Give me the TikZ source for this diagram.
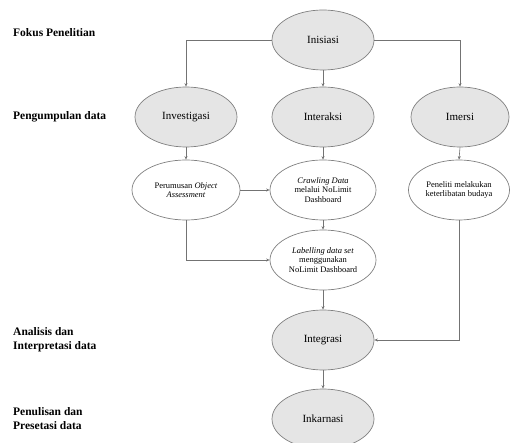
\documentclass[tikz,border=0pt]{standalone}
\usepackage{fontspec}
\setmainfont{Liberation Serif}
\usetikzlibrary{shapes.geometric,arrows.meta}
\begin{document}
\begin{tikzpicture}[x=1pt,y=-1pt,
 main/.style={ellipse,draw=black!50,line width=0.7pt,fill=black!10,minimum width=102pt,minimum height=60pt,inner sep=0pt,font=\fontsize{11}{12}\selectfont},
 sub/.style={ellipse,draw=black!50,line width=0.7pt,fill=white,minimum width=106pt,minimum height=60pt,inner sep=0pt,align=center,font=\fontsize{8.5}{9.3}\selectfont},
 lab/.style={anchor=west,align=left,inner sep=0pt,font=\bfseries\fontsize{11.5}{14}\selectfont},
 con/.style={draw=black!55,line width=0.6pt,-{Stealth[length=3.5pt,width=3pt]}}]
\useasboundingbox (0,0) rectangle (510,443);
% left labels
\node[lab] (l1) at (13,33) {Fokus Penelitian};
\node[lab] (l2) at (13,117) {Pengumpulan data};
\node[lab] (l3) at (13,340) {Analisis dan\\Interpretasi data};
\node[lab] (l4) at (13,419) {Penulisan dan\\Presetasi data};
% main nodes
\node[main] (ini) at (323,40) {Inisiasi};
\node[main] (inv) at (186,117) {Investigasi};
\node[main] (int) at (323,117) {Interaksi};
\node[main,minimum width=98pt] (ime) at (460,117) {Imersi};
\node[sub,minimum width=108pt] (per) at (186,190) {Perumusan \textit{Object}\\\textit{Assessment}};
\node[sub] (cra) at (323,190) {\textit{Crawling Data}\\melalui NoLimit\\Dashboard};
\node[sub,minimum width=101pt] (pen) at (459,190) {Peneliti melakukan\\keterlibatan budaya};
\node[sub] (lbl) at (323,260) {\textit{Labelling data set}\\menggunakan\\NoLimit Dashboard};
\node[main] (itg) at (323,340) {Integrasi};
\node[main] (ink) at (323,419) {Inkarnasi};
% connectors
\draw[con] (ini.west) -| (inv.north);
\draw[con] (ini.south) -- (int.north);
\draw[con] (ini.east) -| (ime.north);
\draw[con] (inv.south) -- (per.north);
\draw[con] (int.south) -- (cra.north);
\draw[con] (ime.south) -- (pen.north);
\draw[con] (per.east) -- (cra.west);
\draw[con] (cra.south) -- (lbl.north);
\draw[con] (per.south) |- (lbl.west);
\draw[con] (lbl.south) -- (itg.north);
\draw[con] (pen.south) |- (itg.east);
\draw[con] (itg.south) -- (ink.north);
\end{tikzpicture}
\end{document}
